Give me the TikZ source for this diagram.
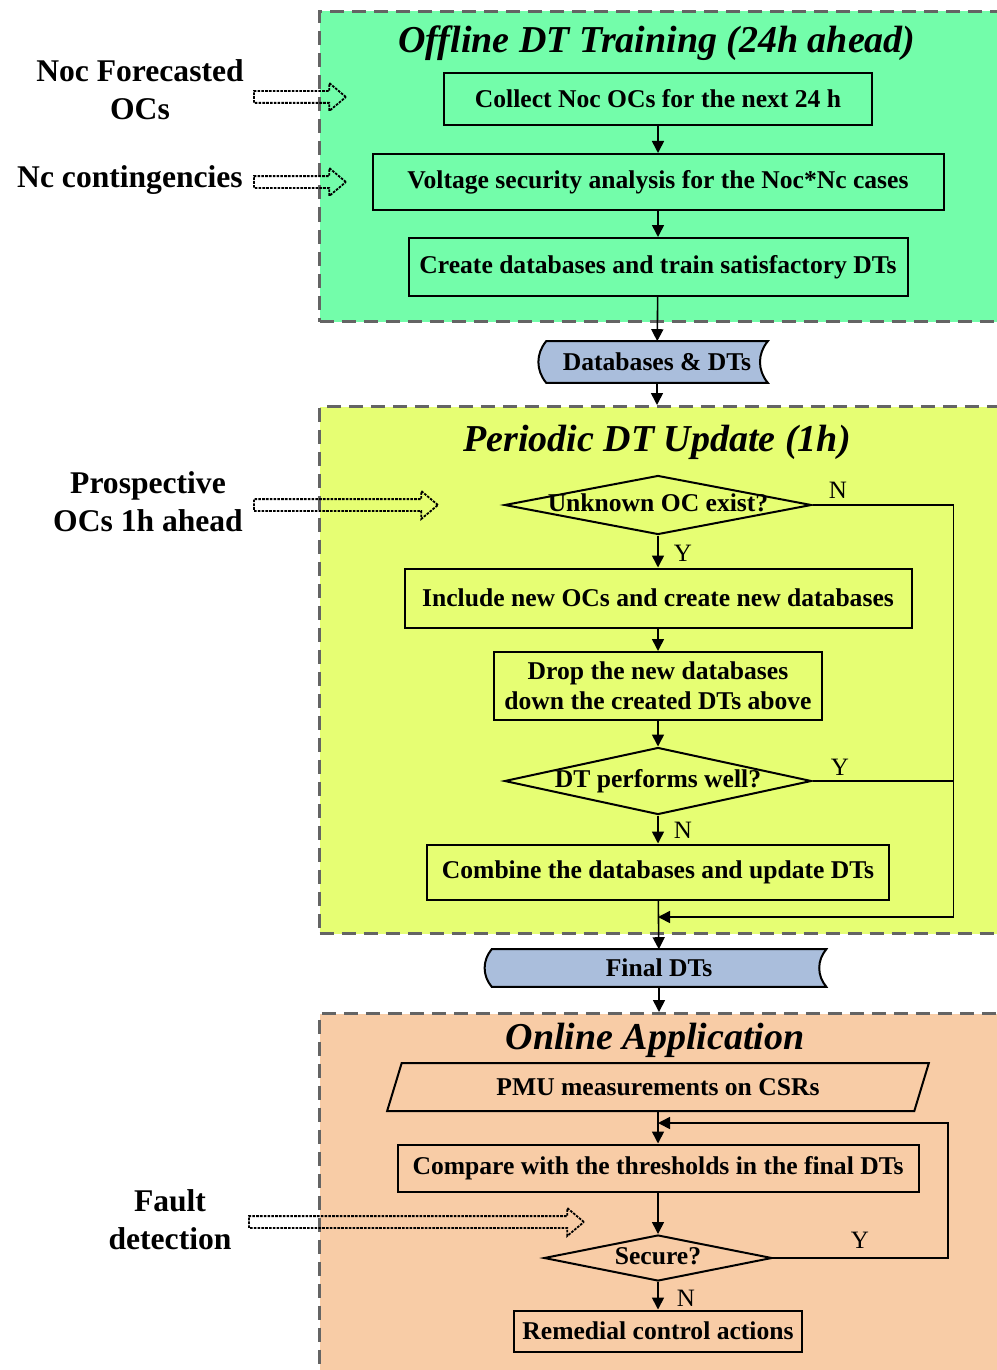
\documentclass[tikz,border=0pt]{standalone}
\usepackage{fontspec}
\setmainfont{Liberation Serif}
\usetikzlibrary{arrows.meta,shapes.geometric,shapes.arrows,backgrounds}
\definecolor{offgreen}{RGB}{115,253,170}
\definecolor{updyellow}{RGB}{230,254,115}
\definecolor{onorange}{RGB}{248,204,166}
\definecolor{storeblue}{RGB}{170,190,220}
\definecolor{bordergray}{RGB}{100,100,100}
\tikzset{
  region/.style={draw=bordergray, line width=1.5pt, dash pattern=on 7pt off 4pt, anchor=north west, inner sep=0pt},
  title/.style={font=\fontsize{19}{21}\selectfont\bfseries\itshape},
  box/.style={draw, line width=1pt, inner sep=0pt, font=\fontsize{12.8}{15}\selectfont\bfseries, align=center},
  dec/.style={draw, line width=1pt, diamond, inner sep=0pt, text height=1.5ex, text depth=0pt, aspect=5, font=\fontsize{12.8}{15}\selectfont\bfseries},
  store/.style={inner sep=0pt, font=\fontsize{12.8}{15}\selectfont\bfseries},
  storeline/.style={draw, line width=1pt, fill=storeblue},
  io/.style={draw, line width=1pt, trapezium, trapezium left angle=62, trapezium right angle=118, trapezium stretches=true, inner sep=0pt, font=\fontsize{12.8}{15}\selectfont\bfseries},
  side/.style={font=\fontsize{15.8}{19}\selectfont\bfseries, align=center},
  yn/.style={font=\fontsize{12.5}{14}\selectfont},
  fatarrow/.style={draw, single arrow, anchor=tail, inner sep=2.5pt, single arrow head extend=4pt, single arrow tip angle=80, line width=0.9pt, dash pattern=on 1.3pt off 0.6pt}
}
\begin{document}
\begin{tikzpicture}[x=0.5pt, y=-0.5pt, >={Triangle[length=6pt,width=6pt]}, line width=0.8pt]
\useasboundingbox (0,0) rectangle (996,1370);
% the three stages
\node[region, fill=offgreen, minimum width=341pt, minimum height=155pt] (offline) at (318,10) {};
\node[region, fill=updyellow, minimum width=341pt, minimum height=263.5pt] (update) at (318,405) {};
\node[region, fill=onorange, minimum width=341pt, minimum height=184pt] (online) at (318,1012) {};
\node[title] (t1) at (657,43) {Offline DT Training (24h ahead)};
\node[title] (t2) at (657,442) {Periodic DT Update (1h)};
\node[title] (t3) at (655,1040) {Online Application};

% offline training
\node[box, minimum width=214pt, minimum height=26pt] (collect) at (658,99) {Collect Noc OCs for the next 24 h};
\node[box, minimum width=285.5pt, minimum height=28pt] (vsa) at (658,182) {Voltage security analysis for the Noc*Nc cases};
\node[box, minimum width=249.5pt, minimum height=29pt] (train) at (658,267) {Create databases and train satisfactory DTs};
\node[store, minimum width=110pt, minimum height=20pt] (db) at (657,362) {Databases \& DTs};
\begin{scope}[on background layer]
\draw[storeline] (db.north west) to[bend right=40] (db.south west) -- (db.south east) to[bend left=40] (db.north east) -- cycle;
\end{scope}
\draw[->] (collect) -- (vsa);
\draw[->] (vsa) -- (train);
\draw[->] (train) -- (db);
\draw[->] (db) -- (db |- update.north);

% periodic update
\node[dec, minimum width=153.5pt, minimum height=29.5pt] (unknown) at (658,505) {Unknown OC exist?};
\node[box, minimum width=253.5pt, minimum height=29.5pt] (include) at (658,598) {Include new OCs and create new databases};
\node[box, minimum width=164pt, minimum height=34pt] (drop) at (658,686) {Drop the new databases\\down the created DTs above};
\node[dec, minimum width=153.5pt, minimum height=33.5pt] (well) at (658,781) {DT performs well?};
\node[box, minimum width=231pt, minimum height=27.5pt] (combine) at (658,872) {Combine the databases and update DTs};
\node[store, minimum width=166.5pt, minimum height=18pt] (final) at (659,968) {Final DTs};
\begin{scope}[on background layer]
\draw[storeline] (final.north west) to[bend right=40] (final.south west) -- (final.south east) to[bend left=40] (final.north east) -- cycle;
\end{scope}
\coordinate (join) at (658,917);
\draw[->] (unknown) -- (include);
\draw[->] (include) -- (drop);
\draw[->] (drop) -- (well);
\draw[->] (well) -- (combine);
\draw[->] (unknown.east) -- ++(141,0) |- (join);
\draw (well.east) -- ++(141,0);
\draw[->] (combine) -- (final);
\draw[->] (final) -- (final |- online.north);
\node[yn] (n1) at (838,490) {N};
\node[yn] (y1) at (683,553) {Y};
\node[yn] (y2) at (840,767) {Y};
\node[yn] (n2) at (683,830) {N};

% online application
\node[io, minimum width=271.5pt, minimum height=24pt] (pmu) at (658,1087) {PMU measurements on CSRs};
\node[box, minimum width=260.5pt, minimum height=23.5pt] (compare) at (658,1168) {Compare with the thresholds in the final DTs};
\node[dec, minimum width=114pt, minimum height=23pt] (secure) at (658,1258) {Secure?};
\node[box, minimum width=144pt, minimum height=20.5pt] (remedial) at (658,1331) {Remedial control actions};
\coordinate (back) at (658,1123);
\draw[->] (pmu) -- (compare);
\draw[->] (compare) -- (secure);
\draw[->] (secure) -- (remedial);
\draw[->] (secure.east) -- ++(175,0) |- (back);
\node[yn] (y3) at (860,1240) {Y};
\node[yn] (n3) at (686,1298) {N};

% inputs
\node[side] (noc) at (140,90) {Noc Forecasted\\OCs};
\node[side] (nc) at (130,180) {Nc contingencies};
\node[side] (pro) at (148,502) {Prospective\\OCs 1h ahead};
\node[side] (fault) at (170,1220) {Fault\\detection};
\node[fatarrow, minimum height=46pt] (a1) at (253,97) {};
\node[fatarrow, minimum height=46pt] (a2) at (253,182) {};
\node[fatarrow, minimum height=92pt] (a3) at (253,505) {};
\node[fatarrow, minimum height=167.5pt] (a4) at (248,1222) {};
\end{tikzpicture}
\end{document}
